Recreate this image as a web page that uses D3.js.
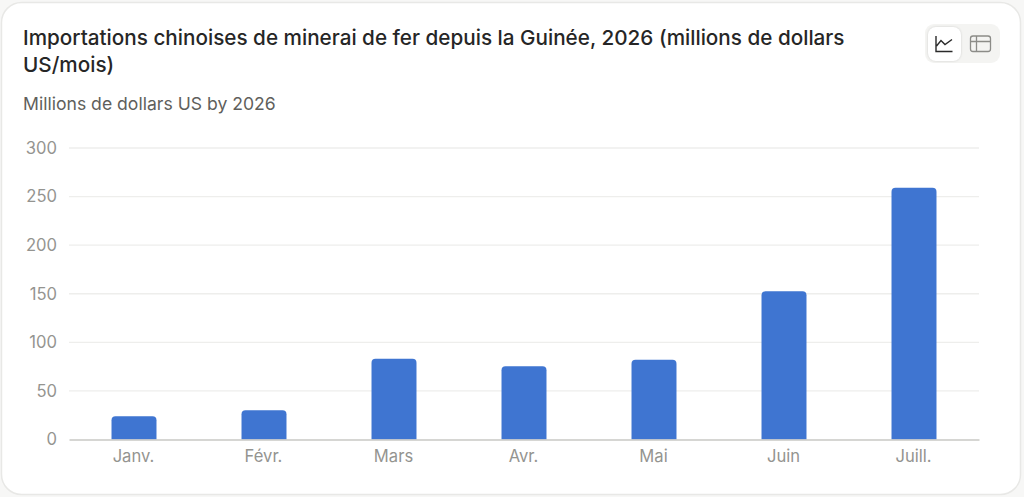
<!DOCTYPE html>
<html>
<head>
<meta charset="utf-8">
<script src="https://cdn.jsdelivr.net/npm/d3@7"></script>
<style>
html, body { margin: 0; padding: 0; background: #f7f7f6; overflow: hidden; }
svg { display: block; font-family: Inter, sans-serif; }
</style>
</head>
<body>
<svg id="chart" width="1024" height="497"></svg>
<script>
var months = ['Janv.', 'Févr.', 'Mars', 'Avr.', 'Mai', 'Juin', 'Juill.'];
var values = [24, 30, 83, 75.5, 82, 152.5, 259];
var yTicks = [0, 50, 100, 150, 200, 250, 300];
var titleLines = ['Importations chinoises de minerai de fer depuis la Guinée, 2026 (millions de dollars', 'US/mois)'];
var subtitle = 'Millions de dollars US by 2026';

var svg = d3.select('#chart');

// card
svg.append('rect').attr('x', 1.5).attr('y', 2.5).attr('width', 1019).attr('height', 492)
  .attr('rx', 20).attr('fill', '#fff').attr('stroke', '#e8e8e6').attr('stroke-width', 1.5);

// title
svg.append('g').selectAll('text').data(titleLines).enter().append('text')
  .attr('x', 23).attr('y', function(d, i) { return 45 + i * 27; })
  .attr('font-size', 20.7).attr('font-weight', 500).attr('fill', '#262626')
  .text(function(d) { return d; });

svg.append('text').attr('x', 23).attr('y', 110)
  .attr('font-size', 17.6).attr('fill', '#5f5f5c').text(subtitle);

// toggle buttons
var toggle = svg.append('g');
toggle.append('rect').attr('x', 925).attr('y', 24).attr('width', 75).attr('height', 39).attr('rx', 9).attr('fill', '#f4f4f2');
toggle.append('rect').attr('x', 928).attr('y', 27).attr('width', 33).attr('height', 34).attr('rx', 8).attr('fill', '#fff')
  .style('filter', 'drop-shadow(0 0 1px rgba(0,0,0,0.15))');
toggle.append('path').attr('d', 'M936 36V51.5H952.5M936.5 46L941 40.5L945 44.5L952 39.5')
  .attr('fill', 'none').attr('stroke', '#2a2a2a').attr('stroke-width', 1.4);
toggle.append('rect').attr('x', 970.5).attr('y', 36).attr('width', 20).attr('height', 15.5).attr('rx', 2.5)
  .attr('fill', 'none').attr('stroke', '#8c8c88').attr('stroke-width', 1.3);
toggle.append('path').attr('d', 'M970.5 41.5H990.5M976.5 36V51.5')
  .attr('fill', 'none').attr('stroke', '#8c8c88').attr('stroke-width', 1.3);

var x = d3.scaleBand().domain(months).range([69, 979]).paddingInner(0.654).paddingOuter(0.327);
var y = d3.scaleLinear().domain([0, 300]).range([439.5, 148]);

// grid
svg.append('g').selectAll('line').data(yTicks.slice(1)).enter().append('line')
  .attr('x1', 69).attr('x2', 979)
  .attr('y1', function(d) { return y(d); }).attr('y2', function(d) { return y(d); })
  .attr('stroke', '#eeeeec').attr('stroke-width', 1.4);

// y axis
var yAxis = svg.append('g').attr('transform', 'translate(69,0)')
  .call(d3.axisLeft(y).tickValues(yTicks).tickSize(0).tickPadding(12));
yAxis.select('.domain').remove();
yAxis.selectAll('text').attr('font-size', 16.6).attr('font-family', 'Inter, sans-serif').attr('fill', '#949490');

// bars, rounded on top only
svg.append('g').selectAll('path').data(values).enter().append('path')
  .attr('fill', '#3f75d1')
  .attr('d', function(d, i) {
    var x0 = x(months[i]), w = x.bandwidth(), top = y(d), r = 4;
    return 'M' + x0 + ' ' + y(0) + 'V' + (top + r) + 'Q' + x0 + ' ' + top + ' ' + (x0 + r) + ' ' + top +
      'H' + (x0 + w - r) + 'Q' + (x0 + w) + ' ' + top + ' ' + (x0 + w) + ' ' + (top + r) + 'V' + y(0) + 'Z';
  });

// x axis
var xAxis = svg.append('g').attr('transform', 'translate(0,439.5)')
  .call(d3.axisBottom(x).tickSize(0).tickPadding(11));
xAxis.select('.domain').attr('stroke', '#c9c9c5').attr('stroke-width', 1.4);
xAxis.selectAll('text').attr('font-size', 16.6).attr('font-family', 'Inter, sans-serif').attr('fill', '#949490')
  .attr('dx', -0.5);
</script>
</body>
</html>
